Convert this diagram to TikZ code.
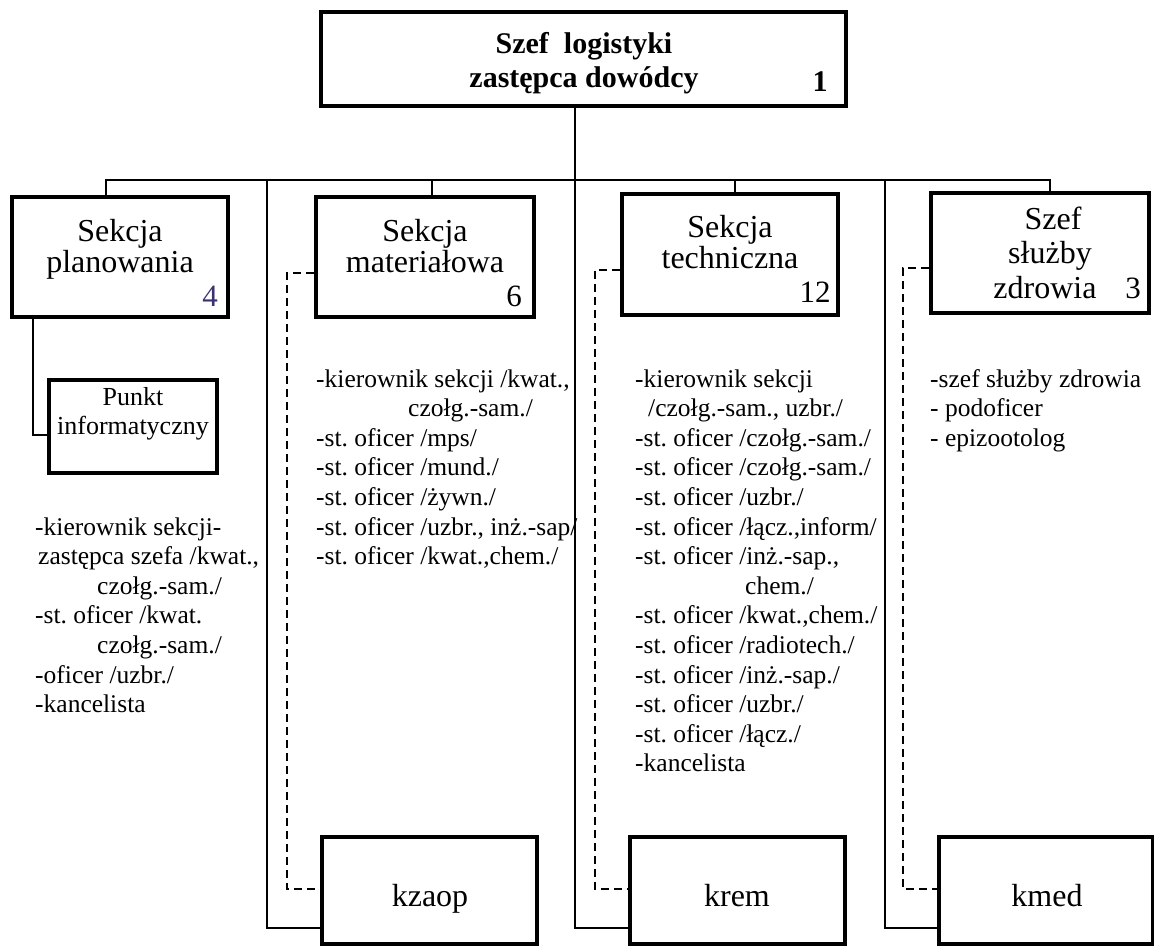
\documentclass[tikz,border=0pt]{standalone}
\usepackage{fontspec}
\setmainfont{Liberation Serif}
\frenchspacing
\begin{document}
\begin{tikzpicture}[x=1pt,y=-1pt,
  box/.style={draw, line width=4pt, rectangle, inner sep=0pt},
  conn/.style={line width=2.8pt},
  dl/.style={line width=1.3pt, dash pattern=on 8pt off 5pt},
  ttl/.style={font=\fontsize{32}{34}\selectfont, anchor=base, inner sep=0pt},
  btitle/.style={font=\bfseries\fontsize{30}{34}\selectfont, align=center, inner sep=0pt},
  num/.style={font=\fontsize{31}{33}\selectfont, anchor=base, inner sep=0pt},
  lst/.style={font=\fontsize{25.5}{29}\selectfont, anchor=base west, inner sep=0pt},
]
\useasboundingbox (0,0) rectangle (1154,946);

% boxes
\node[box, minimum width=525pt, minimum height=94pt] (top) at (583.5,59) {};
\node[btitle] (toptxt) at (584,63) {Szef\ \ logistyki\\zastępca dowódcy};
\node[num, font=\bfseries\fontsize{30}{33}\selectfont] (topnum) at (820,91) {1};

\node[box, minimum width=216pt, minimum height=120pt] (plan) at (120,257) {};
\node[ttl] (plant1) at (120,241) {Sekcja};
\node[ttl] (plant2) at (120,272) {planowania};
\node[num, text={rgb,255:red,60;green,50;blue,110}] (plannum) at (210,306) {4};

\node[box, minimum width=168pt, minimum height=93pt] (punkt) at (133,426.5) {};
\node[ttl, font=\fontsize{26}{30}\selectfont] (punktt1) at (133,405) {Punkt};
\node[ttl, font=\fontsize{26}{30}\selectfont] (punktt2) at (133,434) {informatyczny};

\node[box, minimum width=218pt, minimum height=120pt] (mat) at (425,257) {};
\node[ttl] (matt1) at (425,241) {Sekcja};
\node[ttl] (matt2) at (425,272) {materiałowa};
\node[num] (matnum) at (514,306) {6};

\node[box, minimum width=216pt, minimum height=121pt] (tech) at (730,254.5) {};
\node[ttl] (techt1) at (730,237) {Sekcja};
\node[ttl] (techt2) at (730,268) {techniczna};
\node[num] (technum) at (815,302) {12};

\node[box, minimum width=218pt, minimum height=120pt] (szef) at (1040,253) {};
\node[ttl] (szeft1) at (1053,229) {Szef};
\node[ttl] (szeft2) at (1050,263) {służby};
\node[ttl] (szeft3) at (1045,298) {zdrowia};
\node[num] (szefnum) at (1133,298) {3};

\node[box, minimum width=215pt, minimum height=107pt] (kzaop) at (429.5,890.5) {};
\node[ttl] (kzaoptxt) at (430,906) {kzaop};
\node[box, minimum width=215pt, minimum height=107pt] (krem) at (737.5,890.5) {};
\node[ttl] (kremtxt) at (737,906) {krem};
\node[box, minimum width=214pt, minimum height=107pt] (kmed) at (1046,890.5) {};
\node[ttl] (kmedtxt) at (1047,906) {kmed};

% connectors
\coordinate (busL) at (106,180);
\coordinate (busR) at (1050,180);
\coordinate (c1) at (267,180);
\coordinate (c2) at (575,180);
\coordinate (c3) at (885,180);
\coordinate (dm) at (432,180);
\coordinate (dt) at (735,180);
\coordinate (v1) at (267,928);
\coordinate (v2) at (575,928);
\coordinate (v3) at (885,928);
\draw[conn] (busL |- plan.north) -- (busL) -- (busR) -- (busR |- szef.north);
\draw[conn] (dm) -- (dm |- mat.north);
\draw[conn] (dt) -- (dt |- tech.north);
\draw[conn] (c2 |- top.south) -- (v2) -- (v2 -| krem.west);
\draw[conn] (c1) -- (v1) -- (v1 -| kzaop.west);
\draw[conn] (c3) -- (v3) -- (v3 -| kmed.west);
\coordinate (pk) at (33,435);
\draw[conn] (pk |- plan.south) -- (pk) -- (pk -| punkt.west);

% dashed links
\coordinate (m1) at (287,273);
\coordinate (m2) at (287,889);
\draw[dl] (m1 -| mat.west) -- (m1) -- (m2) -- (m2 -| kzaop.west);
\coordinate (t1) at (595,270);
\coordinate (t2) at (595,889);
\draw[dl] (t1 -| tech.west) -- (t1) -- (t2) -- (t2 -| krem.west);
\coordinate (s1) at (903,268);
\coordinate (s2) at (903,889);
\draw[dl] (s1 -| szef.west) -- (s1) -- (s2) -- (s2 -| kmed.west);

% lists
\def\bl#1{387+(#1-1)*29.6}
\node[lst] (l1) at (35,{\bl{6}}) {-kierownik sekcji-};
\node[lst] (l2) at (38,{\bl{7}}) {zastępca szefa /kwat.,};
\node[lst] (l3) at (97,{\bl{8}}) {czołg.-sam./};
\node[lst] (l4) at (35,{\bl{9}}) {-st. oficer /kwat.};
\node[lst] (l5) at (97,{\bl{10}}) {czołg.-sam./};
\node[lst] (l6) at (35,{\bl{11}}) {-oficer /uzbr./};
\node[lst] (l7) at (35,{\bl{12}}) {-kancelista};

\node[lst] (a1) at (316,{\bl{1}}) {-kierownik sekcji /kwat.,};
\node[lst] (a2) at (408,{\bl{2}}) {czołg.-sam./};
\node[lst] (a3) at (316,{\bl{3}}) {-st. oficer /mps/};
\node[lst] (a4) at (316,{\bl{4}}) {-st. oficer /mund./};
\node[lst] (a5) at (316,{\bl{5}}) {-st. oficer /żywn./};
\node[lst] (a6) at (316,{\bl{6}}) {-st. oficer /uzbr., inż.-sap/};
\node[lst] (a7) at (316,{\bl{7}}) {-st. oficer /kwat.,chem./};

\node[lst] (b1) at (635,{\bl{1}}) {-kierownik sekcji};
\node[lst] (b2) at (648,{\bl{2}}) {/czołg.-sam., uzbr./};
\node[lst] (b3) at (635,{\bl{3}}) {-st. oficer /czołg.-sam./};
\node[lst] (b4) at (635,{\bl{4}}) {-st. oficer /czołg.-sam./};
\node[lst] (b5) at (635,{\bl{5}}) {-st. oficer /uzbr./};
\node[lst] (b6) at (635,{\bl{6}}) {-st. oficer /łącz.,inform/};
\node[lst] (b7) at (635,{\bl{7}}) {-st. oficer /inż.-sap.,};
\node[lst] (b8) at (745,{\bl{8}}) {chem./};
\node[lst] (b9) at (635,{\bl{9}}) {-st. oficer /kwat.,chem./};
\node[lst] (b10) at (635,{\bl{10}}) {-st. oficer /radiotech./};
\node[lst] (b11) at (635,{\bl{11}}) {-st. oficer /inż.-sap./};
\node[lst] (b12) at (635,{\bl{12}}) {-st. oficer /uzbr./};
\node[lst] (b13) at (635,{\bl{13}}) {-st. oficer /łącz./};
\node[lst] (b14) at (635,{\bl{14}}) {-kancelista};

\node[lst] (s1t) at (930,{\bl{1}}) {-szef służby zdrowia};
\node[lst] (s2t) at (930,{\bl{2}}) {- podoficer};
\node[lst] (s3t) at (930,{\bl{3}}) {- epizootolog};
\end{tikzpicture}
\end{document}
